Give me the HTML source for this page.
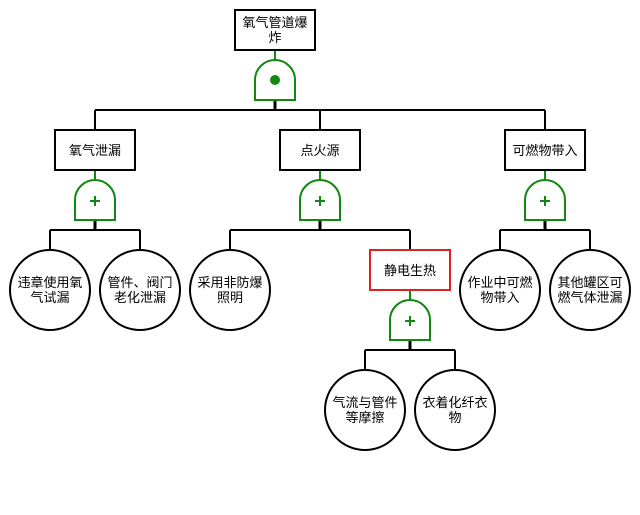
<!DOCTYPE html>
<html><head><meta charset="utf-8"><style>
html,body{margin:0;padding:0;background:#fff;}
svg text{font-family:"Liberation Sans","Noto Sans CJK SC",sans-serif;font-size:13px;fill:#000;text-anchor:middle;}
</style></head><body>
<svg width="640" height="510" viewBox="0 0 640 510" xmlns="http://www.w3.org/2000/svg">
<g fill="none" stroke="#000" stroke-width="2">
<!-- level 1 connectors -->
<path d="M95 110H545M95 110V130M320 110V130M545 110V130"/>
<path d="M275 100V110" stroke-width="3"/>
<!-- level 2 connectors -->
<path d="M50 230H140M50 230V250M140 230V250"/>
<path d="M230 230H410M230 230V250M410 230V250"/>
<path d="M500 230H590M500 230V250M590 230V250"/>
<path d="M95 220V230M320 220V230M545 220V230M410 340V350" stroke-width="3"/>
<path d="M365 350H455M365 350V370M455 350V370"/>
</g>
<g fill="none" stroke="#118811" stroke-width="2">
<path d="M275 50V60M95 170V180M320 170V180M545 170V180M410 290V300"/>
<path d="M255 100V80A20 20 0 0 1 295 80V100Z" fill="#fff"/>
<path d="M75 220V200A20 20 0 0 1 115 200V220Z" fill="#fff"/>
<path d="M300 220V200A20 20 0 0 1 340 200V220Z" fill="#fff"/>
<path d="M525 220V200A20 20 0 0 1 565 200V220Z" fill="#fff"/>
<path d="M390 340V320A20 20 0 0 1 430 320V340Z" fill="#fff"/>
<path d="M90 201H100M95 196V206M315 201H325M320 196V206M540 201H550M545 196V206M405 321H415M410 316V326"/>
</g>
<circle cx="275" cy="80" r="5" fill="#118811"/>
<g fill="#fff" stroke="#000" stroke-width="2">
<rect x="235" y="10" width="80" height="40"/>
<rect x="55" y="130" width="80" height="40"/>
<rect x="280" y="130" width="80" height="40"/>
<rect x="505" y="130" width="80" height="40"/>
<rect x="370" y="250" width="80" height="40" stroke="#dd2222"/>
<circle cx="50" cy="290" r="40"/>
<circle cx="140" cy="290" r="40"/>
<circle cx="230" cy="290" r="40"/>
<circle cx="500" cy="290" r="40"/>
<circle cx="590" cy="290" r="40"/>
<circle cx="365" cy="410" r="40"/>
<circle cx="455" cy="410" r="40"/>
</g>
<text x="275" y="27">氧气管道爆</text><text x="275" y="42">炸</text>
<text x="95" y="155">氧气泄漏</text>
<text x="320" y="155">点火源</text>
<text x="545" y="155">可燃物带入</text>
<text x="410" y="275">静电生热</text>
<text x="50" y="287">违章使用氧</text><text x="50" y="302">气试漏</text>
<text x="140" y="287">管件、阀门</text><text x="140" y="302">老化泄漏</text>
<text x="230" y="287">采用非防爆</text><text x="230" y="302">照明</text>
<text x="500" y="287">作业中可燃</text><text x="500" y="302">物带入</text>
<text x="590" y="287">其他罐区可</text><text x="590" y="302">燃气体泄漏</text>
<text x="365" y="407">气流与管件</text><text x="365" y="422">等摩擦</text>
<text x="455" y="407">衣着化纤衣</text><text x="455" y="422">物</text>
</svg>
</body></html>
